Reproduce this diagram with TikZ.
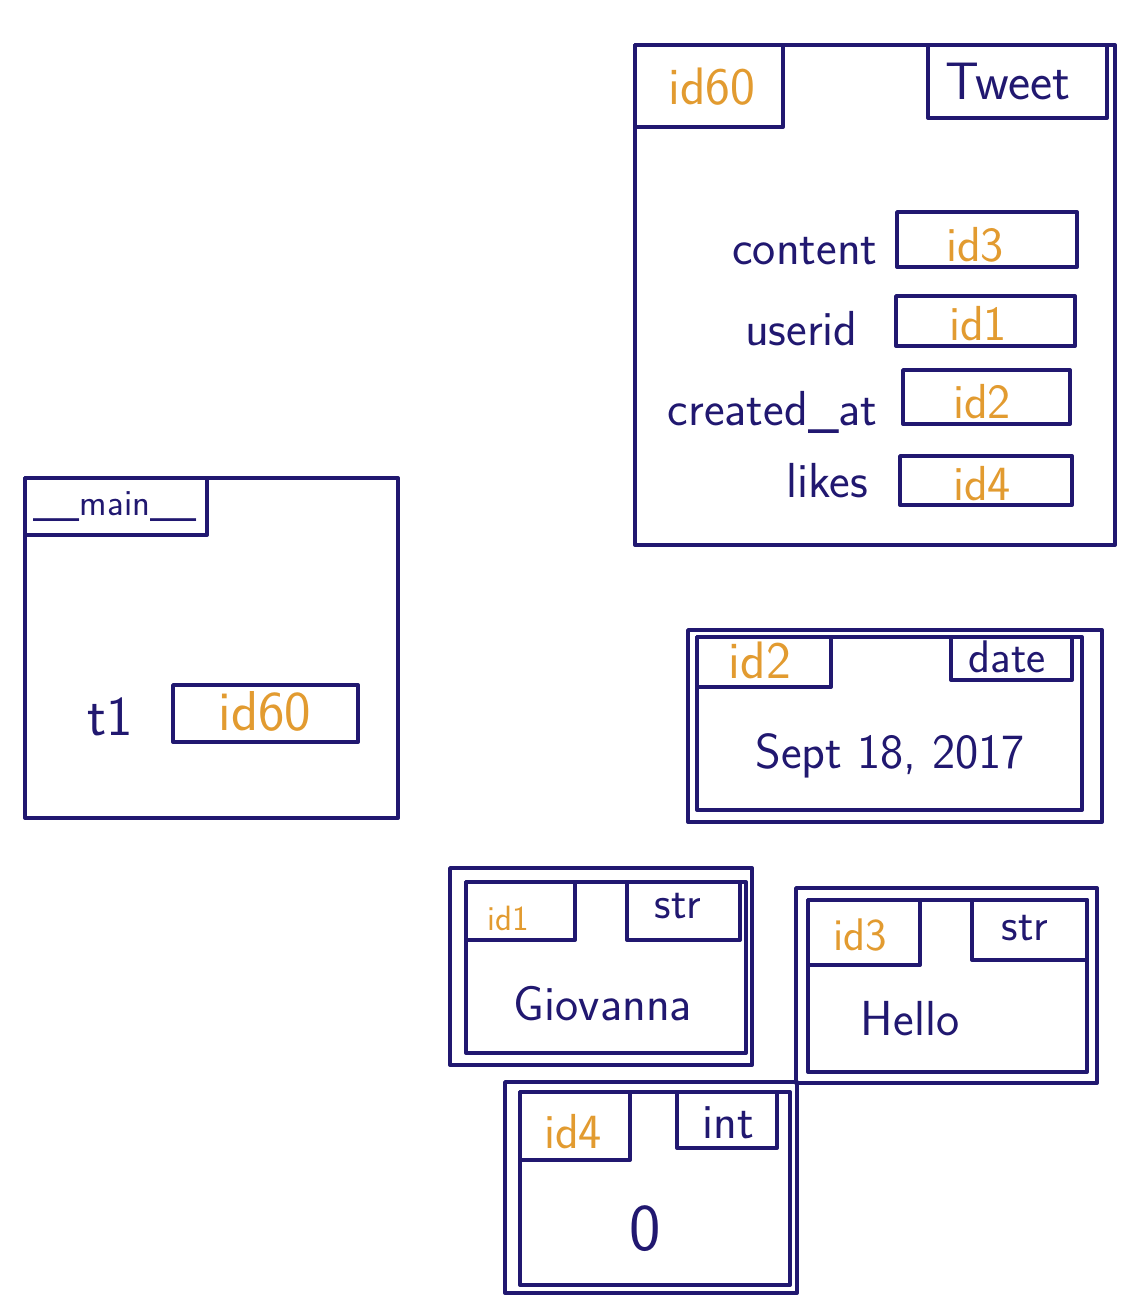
\documentclass[tikz,border=0pt]{standalone}
\usepackage{tikz}
\definecolor{ink}{RGB}{33,24,112}
\definecolor{idcol}{RGB}{226,155,48}

\begin{document}
\begin{tikzpicture}
[x=0.02cm,y=-0.02cm,
frame/.style={draw=ink,line width=2.2pt,line join=round},
hand/.style={text=ink,inner sep=0pt,font=\sffamily\fontsize{28}{30}\selectfont},
ref/.style={hand,text=idcol},
tiny/.style={font=\sffamily\fontsize{20}{22}\selectfont},
big/.style={font=\sffamily\fontsize{38}{40}\selectfont}]
\useasboundingbox (0,0) rectangle (1122,1297);

% Tweet object
\draw[frame] (635,45) rectangle (1115,545);
\draw[frame] (635,45) rectangle (783,127);
\draw[frame] (928,45) rectangle (1107,118);
\node[ref,anchor=base,font=\sffamily\fontsize{30}{32}\selectfont] (tw-id) at (712,105) {id60};
\node[hand,anchor=base,font=\sffamily\fontsize{30}{32}\selectfont] (tw-type) at (1008,100) {Tweet};
\draw[frame] (897,212) rectangle (1077,267);
\draw[frame] (896,296) rectangle (1075,346);
\draw[frame] (903,370) rectangle (1070,424);
\draw[frame] (900,456) rectangle (1072,505);
\node[hand,anchor=base east] (f-content) at (878,265) {content};
\node[hand,anchor=base east] (f-userid) at (858,345) {userid};
\node[hand,anchor=base east] (f-created) at (878,425) {created\_at};
\node[hand,anchor=base east] (f-likes) at (868,497) {likes};
\node[ref,anchor=base] (v-content) at (975,262) {id3};
\node[ref,anchor=base] (v-userid) at (978,340) {id1};
\node[ref,anchor=base] (v-created) at (982,418) {id2};
\node[ref,anchor=base] (v-likes) at (982,500) {id4};

% __main__ frame
\draw[frame] (25,478) rectangle (398,818);
\draw[frame] (25,478) rectangle (207,535);
\node[hand,anchor=base,font=\sffamily\fontsize{21}{23}\selectfont] (main) at (115,515) {\_\_main\_\_};
\node[hand,anchor=base,font=\sffamily\fontsize{32}{34}\selectfont] (t1) at (110,735) {t1};
\draw[frame] (173,685) rectangle (358,742);
\node[ref,anchor=base,font=\sffamily\fontsize{32}{34}\selectfont] (t1-val) at (265,730) {id60};

% date object
\draw[frame] (688,630) rectangle (1102,822);
\draw[frame] (697,637) rectangle (1082,810);
\draw[frame] (697,637) rectangle (831,687);
\draw[frame] (951,637) rectangle (1072,680);
\node[ref,anchor=base,font=\sffamily\fontsize{30}{32}\selectfont] (d-id) at (760,678) {id2};
\node[hand,anchor=base,font=\sffamily\fontsize{26}{28}\selectfont] (d-type) at (1007,672) {date};
\node[hand,anchor=base] (d-val) at (890,768) {Sept 18, 2017};

% str objects
\draw[frame] (450,868) rectangle (752,1065);
\draw[frame] (466,882) rectangle (746,1053);
\draw[frame] (466,882) rectangle (575,940);
\draw[frame] (627,882) rectangle (740,940);
\node[ref,anchor=base,tiny] (g-id) at (508,930) {id1};
\node[hand,anchor=base,font=\sffamily\fontsize{26}{28}\selectfont] (g-type) at (678,918) {str};
\node[hand,anchor=base] (g-val) at (603,1020) {Giovanna};

\draw[frame] (796,888) rectangle (1097,1083);
\draw[frame] (808,900) rectangle (1087,1072);
\draw[frame] (808,900) rectangle (920,965);
\draw[frame] (972,900) rectangle (1087,960);
\node[ref,anchor=base,font=\sffamily\fontsize{26}{28}\selectfont] (h-id) at (860,950) {id3};
\node[hand,anchor=base,font=\sffamily\fontsize{26}{28}\selectfont] (h-type) at (1025,940) {str};
\node[hand,anchor=base] (h-val) at (910,1035) {Hello};

% int object
\draw[frame] (505,1082) rectangle (797,1293);
\draw[frame] (520,1092) rectangle (790,1285);
\draw[frame] (520,1092) rectangle (630,1160);
\draw[frame] (677,1092) rectangle (777,1148);
\node[ref,anchor=base] (i-id) at (573,1148) {id4};
\node[hand,anchor=base] (i-type) at (728,1138) {int};
\node[hand,anchor=base,big] (i-val) at (645,1250) {0};
\end{tikzpicture}
\end{document}
